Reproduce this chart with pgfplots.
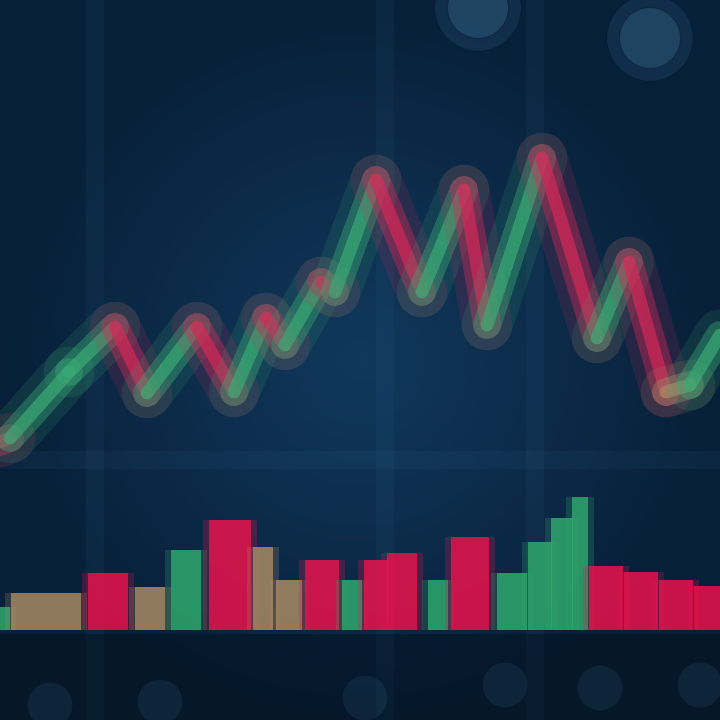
\documentclass[border=0pt]{standalone}
\usepackage{pgfplots}
\pgfplotsset{compat=1.18}
\definecolor{bgin}{HTML}{10385C}
\definecolor{bgout}{HTML}{071F38}
\definecolor{cgreen}{HTML}{3AAA74}
\definecolor{cred}{HTML}{D42858}
\definecolor{vred}{HTML}{EA124C}
\definecolor{vgreen}{HTML}{2FA86C}
\definecolor{ctan}{HTML}{A88A64}
\definecolor{glint}{HTML}{4A88B0}
\newcommand\seg[5]{%
\addplot[#1, line width=20pt, opacity=0.15, line cap=round] coordinates {(#2,#3) (#4,#5)};
\addplot[#1, line width=11pt, opacity=0.4, line cap=round] coordinates {(#2,#3) (#4,#5)};
\addplot[#1, line width=5pt, opacity=0.7, line cap=round] coordinates {(#2,#3) (#4,#5)};}
\newcommand\vbar[4]{%
\addplot[ybar, bar shift=0pt, bar width=#3+12, fill=#4, draw=none, opacity=0.25] coordinates {(#1,#2)};
\addplot[ybar, bar shift=0pt, bar width=#3, fill=#4, draw=none, opacity=0.8] coordinates {(#1,#2)};}
\begin{document}
\begin{tikzpicture}
% volume axis (background + bars)
\begin{axis}[
  name=vol, at={(0,0)}, anchor=south west,
  scale only axis, width=10cm, height=10cm,
  xmin=0, xmax=720, ymin=-90, ymax=630,
  clip marker paths=true,
  axis background/.style={inner color=bgin, outer color=bgout},
  axis line style={draw=none}, tick style={draw=none},
  xtick={95,385,535}, ytick={170},
  xticklabels={}, yticklabels={},
  grid=major, grid style={glint, line width=7pt, opacity=0.07},
]
\addplot[fill=black, draw=none, opacity=0.25] coordinates {(0,-90) (720,-90) (720,-4) (0,-4)} -- cycle;
\vbar{5}{23}{10}{vgreen}
\vbar{46}{37}{70}{ctan}
\vbar{108}{57}{40}{vred}
\vbar{150}{43}{30}{ctan}
\vbar{186}{80}{30}{vgreen}
\vbar{230}{110}{42}{vred}
\vbar{263}{83}{20}{ctan}
\vbar{289}{50}{26}{ctan}
\vbar{322}{70}{34}{vred}
\vbar{352}{50}{20}{vgreen}
\vbar{376}{70}{24}{vred}
\vbar{402}{77}{30}{vred}
\vbar{438}{50}{20}{vgreen}
\vbar{470}{93}{38}{vred}
\vbar{512}{57}{30}{vgreen}
\vbar{540}{88}{24}{vgreen}
\vbar{562}{112}{22}{vgreen}
\vbar{580}{133}{16}{vgreen}
\vbar{606}{64}{34}{vred}
\vbar{641}{58}{34}{vred}
\vbar{676}{50}{34}{vred}
\vbar{709}{44}{30}{vred}
% faint bokeh at the bottom
\addplot[only marks, mark=*, mark size=9pt, mark options={fill=glint, draw=none, opacity=0.12}] coordinates {(50,-75) (160,-72) (365,-68) (505,-55) (600,-58) (700,-55)};
\end{axis}
% price axis
\begin{axis}[
  at={(0,0)}, anchor=south west,
  scale only axis, width=10cm, height=10cm,
  xmin=0, xmax=720, ymin=0, ymax=720,
  clip marker paths=true,
  axis lines=none,
]
\addplot[only marks, mark=*, mark size=17pt, mark options={fill=glint, draw=none, opacity=0.15}] coordinates {(478,712) (650,682)};
\addplot[only marks, mark=*, mark size=12pt, mark options={fill=glint, draw=none, opacity=0.25}] coordinates {(478,712) (650,682)};
\seg{cred}{0}{278}{10}{282}
\seg{cgreen}{10}{282}{69}{348}
\seg{cgreen}{69}{348}{115}{393}
\seg{cred}{115}{393}{147}{327}
\seg{cgreen}{147}{327}{197}{393}
\seg{cred}{197}{393}{234}{328}
\seg{cgreen}{234}{328}{266}{402}
\seg{cred}{266}{402}{285}{375}
\seg{cgreen}{285}{375}{321}{438}
\seg{cred}{321}{438}{335}{428}
\seg{cgreen}{335}{428}{376}{540}
\seg{cred}{376}{540}{422}{428}
\seg{cgreen}{422}{428}{464}{530}
\seg{cred}{464}{530}{487}{395}
\seg{cgreen}{487}{395}{542}{562}
\seg{cred}{542}{562}{597}{382}
\seg{cgreen}{597}{382}{629}{458}
\seg{cred}{629}{458}{666}{328}
\seg{ctan}{666}{328}{690}{335}
\seg{cgreen}{690}{335}{720}{385}
\end{axis}
\pgfresetboundingbox
\path[use as bounding box] (0,0) rectangle (10cm,10cm);
\end{tikzpicture}
\end{document}
